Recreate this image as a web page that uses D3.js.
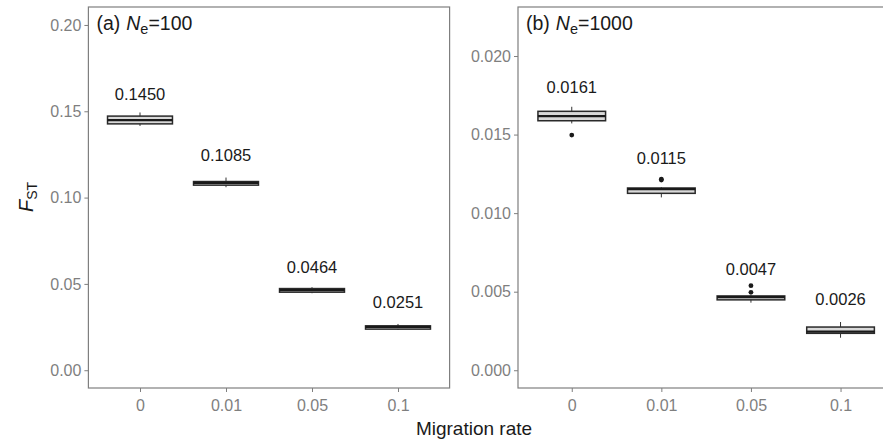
<!DOCTYPE html>
<html><head><meta charset="utf-8">
<script src="https://cdn.jsdelivr.net/npm/d3@7"></script>
<style>body{margin:0;background:#fff}svg{display:block;font-family:"Liberation Sans",Arial,sans-serif}</style>
</head><body><svg id="c" width="883" height="441"></svg>
<script>
const categories = ["0","0.01","0.05","0.1"];
// panel (a) Ne=100
const aLo = [0.1415,0.1060,0.0446,0.0234];
const aQ1 = [0.1427,0.1072,0.0452,0.0238];
const aMed = [0.1449,0.1085,0.0464,0.0251];
const aQ3 = [0.1472,0.1093,0.0473,0.0257];
const aHi = [0.1493,0.1116,0.0481,0.0268];
const aLabels = ["0.1450","0.1085","0.0464","0.0251"];
const aLabelAt = [0.1564,0.1213,0.0566,0.0359];
const aOutliers = [[],[],[],[]];
const aTicks = [0,0.05,0.10,0.15,0.20];
const aTickLabels = ["0.00","0.05","0.10","0.15","0.20"];
// panel (b) Ne=1000
const bLo = [0.01571,0.01100,0.00430,0.00207];
const bQ1 = [0.01588,0.01126,0.00448,0.00235];
const bMed = [0.01618,0.01153,0.00465,0.00246];
const bQ3 = [0.01648,0.01160,0.00473,0.00275];
const bHi = [0.01677,0.01165,0.00478,0.00307];
const bLabels = ["0.0161","0.0115","0.0047","0.0026"];
const bLabelAt = [0.01762,0.01310,0.00606,0.00415];
const bOutliers = [[0.01497],[0.01211,0.01216],[0.00538,0.00496],[]];
const bTicks = [0,0.005,0.010,0.015,0.020];
const bTickLabels = ["0.000","0.005","0.010","0.015","0.020"];

const svg = d3.select("#c");
const panelTop = 7, panelBottom = 388;

function panel(o){
  const x = d3.scalePoint().domain(categories).range([o.left,o.right]).padding(0.6);
  const y = d3.scaleLinear().domain(o.domain).range([panelBottom,panelTop]);
  const g = svg.append("g");
  const step = x.step(), bw = step*0.755;
  g.append("rect").attr("x",o.left).attr("y",panelTop).attr("width",o.right-o.left).attr("height",panelBottom-panelTop)
    .attr("fill","none").attr("stroke","#7f7f7f").attr("stroke-width",1.2);
  const ya = g.append("g").attr("transform",`translate(${o.left},0)`)
    .call(d3.axisLeft(y).tickValues(o.ticks).tickFormat((d,i)=>o.tickLabels[i]).tickSize(4).tickPadding(3));
  ya.select(".domain").remove();
  ya.selectAll(".tick line").attr("stroke","#7f7f7f");
  ya.selectAll(".tick text").attr("fill","#7f7f7f").style("font-size","16px").style("font-family","Liberation Sans, Arial, sans-serif");
  const xa = g.append("g").attr("transform",`translate(0,${panelBottom})`)
    .call(d3.axisBottom(x).tickSize(4).tickPadding(8));
  xa.select(".domain").remove();
  xa.selectAll(".tick line").attr("stroke","#7f7f7f");
  xa.selectAll(".tick text").attr("fill","#7f7f7f").style("font-size","16px").style("font-family","Liberation Sans, Arial, sans-serif");
  categories.forEach((c,i)=>{
    const cx = x(c);
    g.append("line").attr("x1",cx).attr("x2",cx).attr("y1",y(o.hi[i])).attr("y2",y(o.lo[i]))
      .attr("stroke","#333").attr("stroke-width",1);
    g.append("rect").attr("x",cx-bw/2).attr("width",bw).attr("y",y(o.q3[i])).attr("height",Math.max(1,y(o.q1[i])-y(o.q3[i])))
      .attr("fill","#d9d9d9").attr("stroke","#2a2a2a").attr("stroke-width",1.5);
    g.append("line").attr("x1",cx-bw/2).attr("x2",cx+bw/2).attr("y1",y(o.med[i])).attr("y2",y(o.med[i]))
      .attr("stroke","#1a1a1a").attr("stroke-width",2.2);
    o.outliers[i].forEach(v=>{
      g.append("circle").attr("cx",cx).attr("cy",y(v)).attr("r",2.4).attr("fill","#1a1a1a");
    });
    g.append("text").attr("x",cx).attr("y",y(o.labelAt[i])).attr("text-anchor","middle")
      .attr("fill","#1a1a1a").style("font-size","16.5px").text(o.labels[i]);
  });
  const t = g.append("text").attr("x",o.left+8).attr("y",30).attr("fill","#1a1a1a").style("font-size","19.5px");
  t.append("tspan").text(o.tag);
  t.append("tspan").attr("dx",6).style("font-style","italic").text("N");
  t.append("tspan").attr("dy",4).style("font-size","14.5px").text("e");
  t.append("tspan").attr("dy",-4).text(o.eq);
}

panel({left:88.4,right:449.6,domain:[-0.0103,0.2104],ticks:aTicks,tickLabels:aTickLabels,
  lo:aLo,q1:aQ1,med:aMed,q3:aQ3,hi:aHi,labels:aLabels,labelAt:aLabelAt,outliers:aOutliers,tag:"(a)",eq:"=100"});
panel({left:518,right:894.3,domain:[-0.00113,0.02312],ticks:bTicks,tickLabels:bTickLabels,
  lo:bLo,q1:bQ1,med:bMed,q3:bQ3,hi:bHi,labels:bLabels,labelAt:bLabelAt,outliers:bOutliers,tag:"(b)",eq:"=1000"});

svg.append("text").attr("x",474).attr("y",435).attr("text-anchor","middle").attr("fill","#1a1a1a")
  .style("font-size","19px").text("Migration rate");
const yt = svg.append("text").attr("transform","translate(33,197) rotate(-90)").attr("text-anchor","middle")
  .attr("fill","#1a1a1a").style("font-size","20px");
yt.append("tspan").style("font-style","italic").text("F");
yt.append("tspan").attr("dy",4).style("font-size","14px").text("ST");
</script></body></html>
